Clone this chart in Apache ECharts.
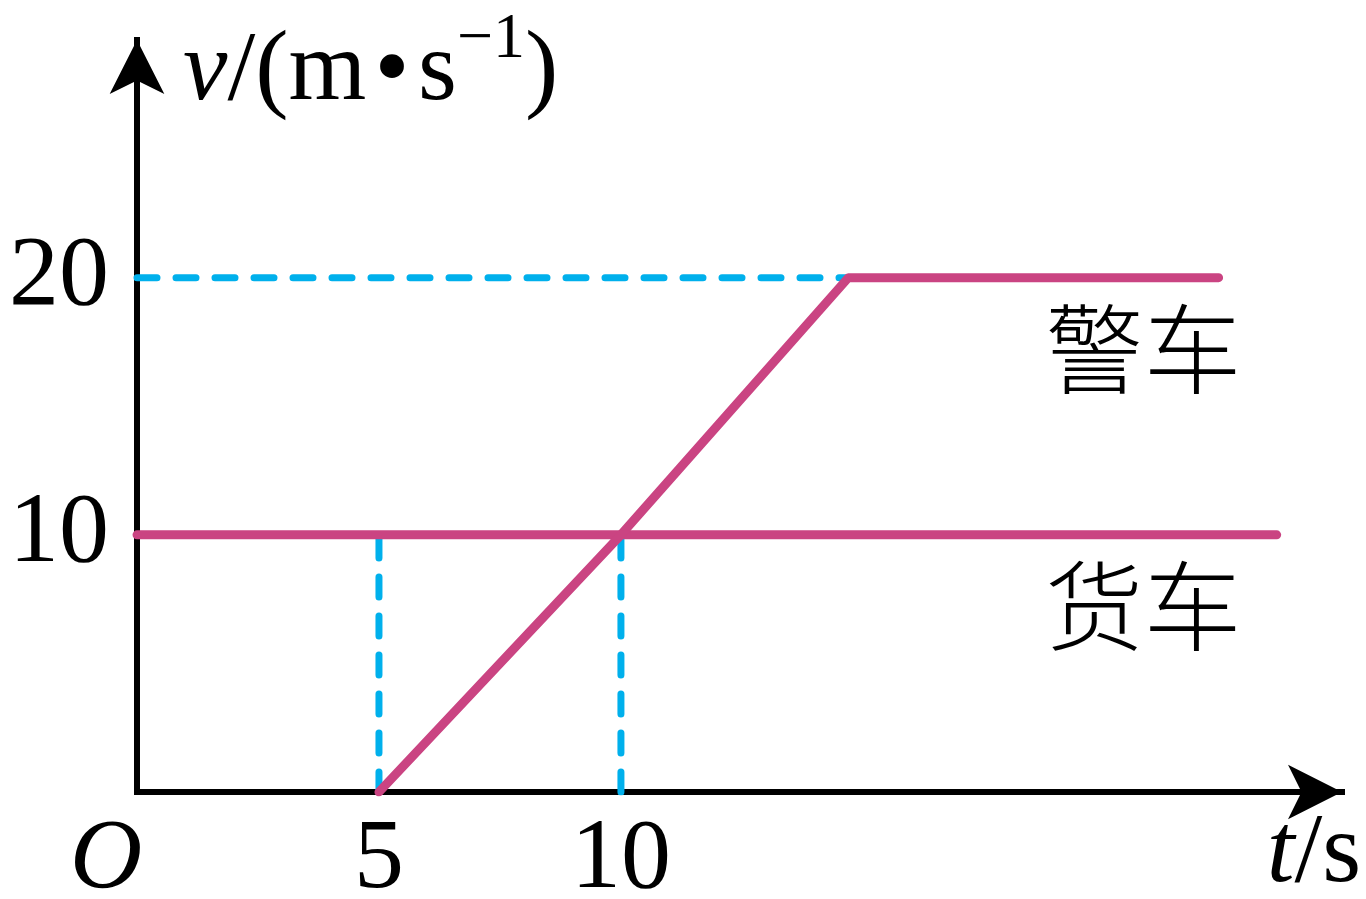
<!DOCTYPE html>
<html><head><meta charset="utf-8">
<script src="https://cdn.jsdelivr.net/npm/echarts@6/dist/echarts.min.js"></script>
<style>html,body{margin:0;padding:0;background:#fff}#c{width:1366px;height:899px}</style>
</head><body><div id="c"></div>
<script>
// ---- data ----
const xTicks = [0, 5, 10];
const yTicks = [10, 20];
const truckLine = [[0, 10], [23.55, 10]];
const policeLine = [[5, 0], [10, 10], [14.7, 20], [22.35, 20]];
const guide20 = [[0, 20], [14.7, 20]];
const guide5 = [[5, 0], [5, 10]];
const guide10 = [[10, 0], [10, 10]];
const policeName = '警车';
const truckName = '货车';
const nameX = 20.8;

const SERIF = '"Liberation Serif","Times New Roman",serif';
const CJK = '"Noto Sans CJK SC","Noto Sans CJK JP",sans-serif';
const MAG = '#CA4482';
const BLUE = '#00B0EC';

const chart = echarts.init(document.getElementById('c'), null, {renderer: 'canvas'});

function dashed(data) {
  return {
    type: 'line', data: data, symbol: 'none', silent: true, z: 2,
    lineStyle: {color: BLUE, width: 7, type: [20, 19], cap: 'round'}
  };
}
function carLabel(text, y) {
  return {
    symbol: 'circle', symbolSize: 1, silent: true,
    itemStyle: {color: 'rgba(0,0,0,0)'},
    label: {show: true, position: 'inside', offset: [0, 71], formatter: text,
      fontFamily: CJK, fontSize: 98, fontWeight: 300, color: '#000'},
    data: [{coord: [nameX, y]}]
  };
}

chart.setOption({
  animation: false,
  backgroundColor: '#fff',
  grid: {left: 137, right: 24, top: 40, bottom: 107, containLabel: false, outerBoundsMode: 'none'},
  xAxis: {
    type: 'value', min: 0, max: 24.9,
    splitLine: {show: false},
    axisTick: {show: false},
    axisLine: {show: true, symbol: ['none', 'arrow'], symbolSize: [41, 54],
      lineStyle: {color: '#000', width: 6, cap: 'square'}},
    axisLabel: {
      customValues: xTicks, margin: 19, color: '#000',
      fontFamily: SERIF, fontSize: 100,
      formatter: v => v === 0 ? '{o|O}' : String(v),
      rich: {o: {fontFamily: SERIF, fontStyle: 'italic', fontSize: 100, padding: [0, 62, 0, 0]}}
    },
    name: '{i|t}{n|/s}', nameLocation: 'end', nameGap: -28,
    nameTextStyle: {align: 'center', verticalAlign: 'middle', padding: [126, 0, 0, 0],
      rich: {i: {fontFamily: SERIF, fontStyle: 'italic', fontSize: 100, color: '#000'},
             n: {fontFamily: SERIF, fontSize: 100, color: '#000'}}}
  },
  yAxis: {
    type: 'value', min: 0, max: 29.24,
    splitLine: {show: false},
    axisTick: {show: false},
    axisLine: {show: true, symbol: ['none', 'arrow'], symbolSize: [41, 54],
      lineStyle: {color: '#000', width: 6, cap: 'square'}},
    axisLabel: {customValues: yTicks, margin: 28, color: '#000',
      fontFamily: SERIF, fontSize: 100},
    name: '{i|v}{n|/(m\u200A•\u200As}{s|−1}{n|)}', nameLocation: 'end', nameGap: -33,
    nameTextStyle: {align: 'left', verticalAlign: 'middle', padding: [0, 0, 0, 46],
      rich: {i: {fontFamily: SERIF, fontStyle: 'italic', fontSize: 100, lineHeight: 130, color: '#000'},
             n: {fontFamily: SERIF, fontSize: 100, lineHeight: 130, color: '#000'},
             s: {fontFamily: SERIF, fontSize: 64, lineHeight: 64, color: '#000', verticalAlign: 'top'}}}
  },
  series: [
    dashed(guide20), dashed(guide5), dashed(guide10),
    {type: 'line', data: truckLine, symbol: 'none', z: 3, silent: true,
     lineStyle: {color: MAG, width: 9, cap: 'round'},
     markPoint: carLabel(truckName, 10)},
    {type: 'line', data: policeLine, symbol: 'none', z: 3, silent: true,
     lineStyle: {color: MAG, width: 9, cap: 'round', join: 'round'},
     markPoint: carLabel(policeName, 20)}
  ]
});
</script></body></html>
